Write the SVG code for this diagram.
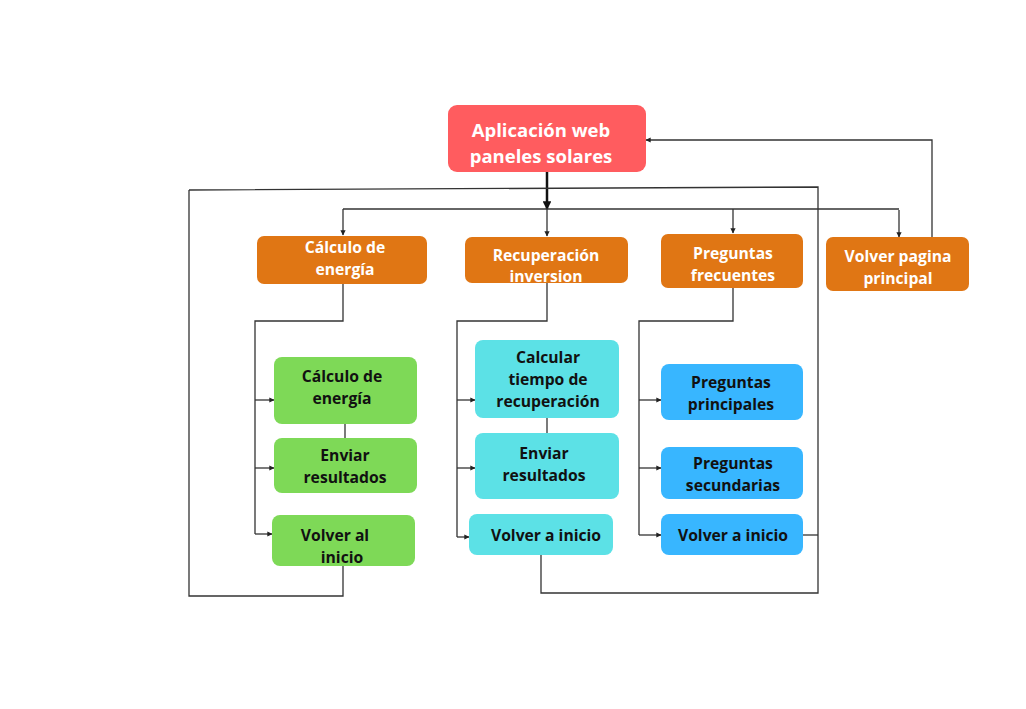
<svg xmlns="http://www.w3.org/2000/svg" width="1026" height="709" viewBox="0 0 1026 709">
<defs>
<marker id="ah" viewBox="0 0 10 10" refX="9" refY="5" markerWidth="4" markerHeight="4" orient="auto"><path d="M0,0 L10,5 L0,10 z" fill="#222"/></marker>
<marker id="ahb" viewBox="0 0 10 10" refX="9" refY="5" markerWidth="3.5" markerHeight="3.5" orient="auto"><path d="M0,0 L10,5 L0,10 z" fill="#111"/></marker>
<style>
.c{fill:none;stroke:#333;stroke-width:1.3}
.n text{font-family:"Open Sans","Noto Sans",sans-serif;font-weight:700;font-size:15.7px;text-anchor:middle}
.o rect{fill:#e07614}.o text{fill:#fff}
.g rect{fill:#7ed957}.g text{fill:#111}
.cy rect{fill:#5ce1e6}.cy text{fill:#111}
.b rect{fill:#38b6ff}.b text{fill:#111}
</style>
</defs>
<rect width="1026" height="709" fill="#fff"/>
<g id="connectors">
<path class="c" d="M547,172 V209" style="stroke-width:2.5;stroke:#111" marker-end="url(#ahb)"/>
<path class="c" d="M189,190 L818,187 V593 H541 V555"/>
<path class="c" d="M189,190 V596 H343 V566"/>
<path class="c" d="M803,535 H818"/>
<path class="c" d="M343,209 H899"/>
<path class="c" d="M343,209 V235" marker-end="url(#ah)"/>
<path class="c" d="M547,209 V236" marker-end="url(#ah)"/>
<path class="c" d="M733,209 V233" marker-end="url(#ah)"/>
<path class="c" d="M899,210 V237" marker-end="url(#ah)"/>
<path class="c" d="M932,237 V140 H646" marker-end="url(#ah)"/>
<path class="c" d="M343,284 V321 H255 V534"/>
<path class="c" d="M255,400 H274" marker-end="url(#ah)"/>
<path class="c" d="M255,468 H274" marker-end="url(#ah)"/>
<path class="c" d="M255,534 H272" marker-end="url(#ah)"/>
<path class="c" d="M345,424 V438"/>
<path class="c" d="M547,283 V321 H457 V537"/>
<path class="c" d="M457,400 H475" marker-end="url(#ah)"/>
<path class="c" d="M457,468 H475" marker-end="url(#ah)"/>
<path class="c" d="M457,537 H469" marker-end="url(#ah)"/>
<path class="c" d="M547,418 V433"/>
<path class="c" d="M733,288 V321 H639 V535"/>
<path class="c" d="M639,400 H661" marker-end="url(#ah)"/>
<path class="c" d="M639,468 H661" marker-end="url(#ah)"/>
<path class="c" d="M639,535 H661" marker-end="url(#ah)"/>
</g>
<g id="main" class="n"><rect x="448" y="105" width="198" height="67" rx="9" fill="#ff5c5f"/><text x="541" y="137" fill="#fff" style="font-size:18.5px">Aplicación web</text><text x="541" y="163" fill="#fff" style="font-size:18.5px">paneles solares</text></g>
<g id="calculo" class="n o"><rect x="257" y="236" width="170" height="48" rx="7"/><text x="345" y="253">Cálculo de</text><text x="345" y="275">energía</text></g>
<g id="recuperacion" class="n o"><rect x="465" y="237" width="163" height="46" rx="7"/><text x="546" y="261">Recuperación</text><text x="546" y="282">inversion</text></g>
<g id="preguntas" class="n o"><rect x="661" y="234" width="142" height="54" rx="7"/><text x="733" y="259">Preguntas</text><text x="733" y="281">frecuentes</text></g>
<g id="volverpagina" class="n o"><rect x="826" y="237" width="143" height="54" rx="7"/><text x="898" y="262">Volver pagina</text><text x="898" y="284">principal</text></g>
<g id="g1" class="n g"><rect x="274" y="357" width="143" height="67" rx="8"/><text x="342" y="382">Cálculo de</text><text x="342" y="404">energía</text></g>
<g id="g2" class="n g"><rect x="274" y="438" width="143" height="55" rx="8"/><text x="345" y="461">Enviar</text><text x="345" y="483">resultados</text></g>
<g id="g3" class="n g"><rect x="272" y="515" width="143" height="51" rx="8"/><text x="335" y="541">Volver al</text><text x="342" y="563">inicio</text></g>
<g id="c1" class="n cy"><rect x="475" y="340" width="144" height="78" rx="8"/><text x="548" y="363">Calcular</text><text x="548" y="385">tiempo de</text><text x="548" y="407">recuperación</text></g>
<g id="c2" class="n cy"><rect x="475" y="433" width="144" height="66" rx="8"/><text x="544" y="459">Enviar</text><text x="544" y="481">resultados</text></g>
<g id="c3" class="n cy"><rect x="469" y="514" width="144" height="41" rx="8"/><text x="546" y="541">Volver a inicio</text></g>
<g id="b1" class="n b"><rect x="661" y="364" width="142" height="56" rx="8"/><text x="731" y="388">Preguntas</text><text x="731" y="410">principales</text></g>
<g id="b2" class="n b"><rect x="661" y="447" width="142" height="52" rx="8"/><text x="733" y="469">Preguntas</text><text x="733" y="491">secundarias</text></g>
<g id="b3" class="n b"><rect x="661" y="514" width="142" height="41" rx="8"/><text x="733" y="541">Volver a inicio</text></g>
</svg>
